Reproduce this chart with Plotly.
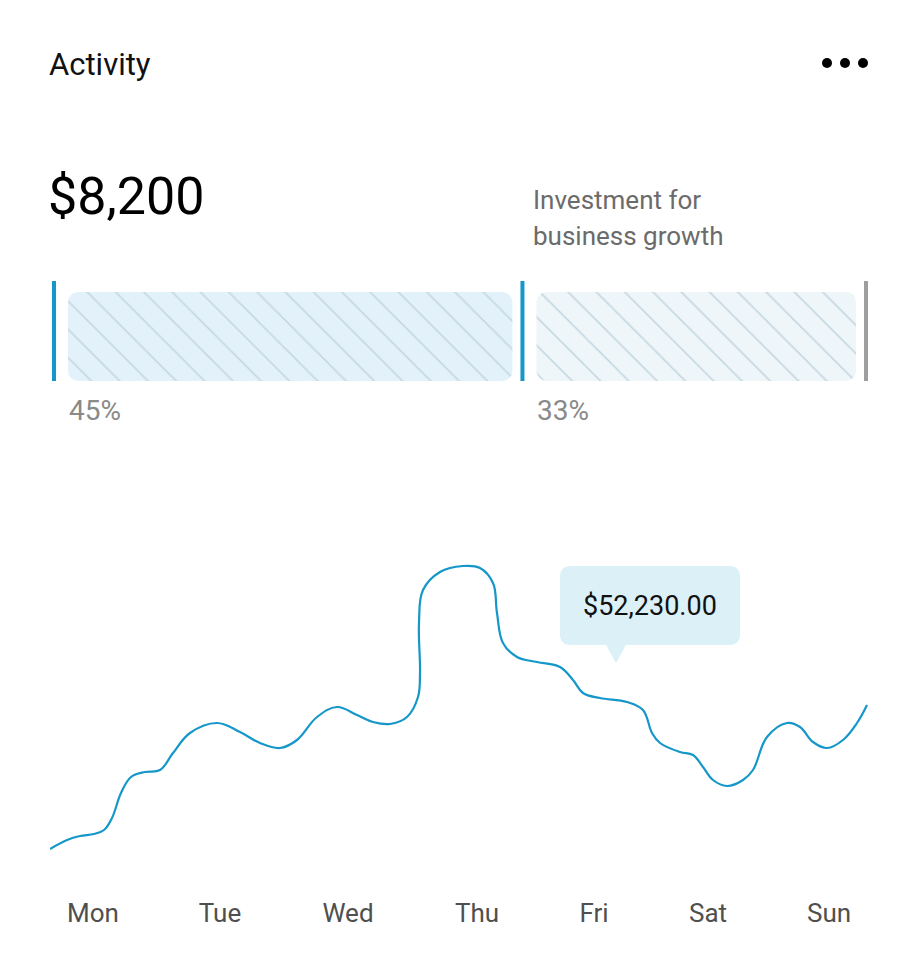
import plotly.graph_objects as go

# ---------------- data ----------------
title_text = "Activity"
headline_value = "$8,200"
subtitle_lines = ["Investment for", "business growth"]

share_labels = ["Invested", "Remaining"]
share_values = [45, 33]

days = ["Mon", "Tue", "Wed", "Thu", "Fri", "Sat", "Sun"]
day_ticks = [93, 220, 348, 477, 594, 708, 829]

# activity curve (x: timeline position, y: activity level)
curve_t = [50, 67, 80, 94, 104, 112, 121, 131, 145, 160, 173, 190, 217, 240, 260, 280, 297, 317,
           337, 357, 373, 390, 407, 418, 420, 419, 423, 440, 463, 480, 493, 497, 503,
           517, 537, 560, 573, 583, 600, 627, 643, 652, 660, 680, 693, 703, 713, 727,
           743, 753, 767, 787, 800, 813, 827, 843, 857, 867]
curve_v = [51, 60, 64, 66, 70, 82, 107, 123, 128, 130, 147, 167, 177, 168, 157, 152, 160, 183,
           193, 185, 178, 176, 183, 203, 227, 277, 310, 328, 334, 332, 317, 287, 257,
           243, 238, 233, 220, 207, 202, 198, 190, 167, 157, 148, 145, 133, 120, 114,
           120, 130, 163, 177, 173, 158, 152, 160, 177, 195]

tooltip_text = "$52,230.00"
tooltip_anchor = (616, 237)   # (timeline position, activity level) of the pointer tip

# ---------------- layout helpers ----------------
OFF = 8                     # page body margin around the figure
W, H = 918 - OFF, 974 - OFF
def fx(px):
    return (px - OFF) / W
def fy(py):
    return 1 - (py - OFF) / H

FONT = "Roboto"
BLUE = "#1597c9"

fig = go.Figure()

# ---------------- activity line ----------------
fig.add_trace(go.Scatter(
    x=curve_t, y=curve_v, mode="lines",
    line=dict(color=BLUE, width=2.2, shape="spline", smoothing=1.1),
    hoverinfo="skip", xaxis="x", yaxis="y", showlegend=False,
))

# ---------------- share bars ----------------
total = sum(share_values)
bar_left_px, bar_right_px = 54, 866
unit_px = (bar_right_px - bar_left_px) / total
pad_l, pad_r = 14 / unit_px, 10 / unit_px
edge = 6 / unit_px          # extra room so edge markers are not clipped
cum = [sum(share_values[:i]) for i in range(len(share_values))]
bases = [c + pad_l for c in cum]
lengths = [v - pad_l - pad_r for v in share_values]
bg_cols = ["#e3f2fa", "#eff6f9"]

for i in range(len(share_values)):
    fig.add_trace(go.Bar(
        x=[lengths[i]], base=[bases[i]], y=[0.445], width=0.89, orientation="h",
        marker=dict(color=bg_cols[i], cornerradius=10, line=dict(width=0),
                    pattern=dict(shape="\\", fgcolor="#c5d8e2", bgcolor=bg_cols[i],
                                 size=20, solidity=0.08, fillmode="replace")),
        xaxis="x2", yaxis="y2", hoverinfo="skip", showlegend=False, name=share_labels[i],
    ))

shapes = []
marker_pos = cum + [total]
marker_cols = [BLUE, BLUE, "#9e9e9e"]
for p, c in zip(marker_pos, marker_cols):
    shapes.append(dict(type="line", xref="x2", yref="y2", x0=p, x1=p, y0=0, y1=1,
                       line=dict(color=c, width=4)))

annotations = []
for c, v in zip(cum, share_values):
    annotations.append(dict(x=c + pad_l - 0.1, y=fy(411), xref="x2", yref="paper",
                            text=f"{v}%", showarrow=False, xanchor="left", yanchor="middle",
                            font=dict(family=FONT, size=28, color="#8a8a8a")))

# ---------------- header ----------------
annotations.append(dict(x=fx(47), y=fy(64), xref="paper", yref="paper", text=title_text,
                        showarrow=False, xanchor="left", yanchor="middle",
                        font=dict(family=FONT, size=31, color="#111111")))
annotations.append(dict(x=fx(46), y=fy(197), xref="paper", yref="paper", text=headline_value,
                        showarrow=False, xanchor="left", yanchor="middle",
                        font=dict(family=FONT, size=52, color="#000000")))
for i, line in enumerate(subtitle_lines):
    annotations.append(dict(x=fx(531), y=fy(200 + 36 * i), xref="paper", yref="paper", text=line,
                            showarrow=False, xanchor="left", yanchor="middle",
                            font=dict(family=FONT, size=26, color="#6b6b6b")))

for cx in (827, 845, 863):
    shapes.append(dict(type="circle", xref="paper", yref="paper",
                       x0=fx(cx - 5), x1=fx(cx + 5), y0=fy(68), y1=fy(58),
                       fillcolor="#000000", line=dict(width=0)))

# ---------------- tooltip ----------------
tx, tv = tooltip_anchor
bw, bh, r, ptr_h, ptr_w, off = 180, 79, 11, 18, 10, -56
x0, x1 = tx + off, tx + off + bw
yb, yt = tv + ptr_h, tv + ptr_h + bh
path = (f"M {x0+r},{yt} L {x1-r},{yt} Q {x1},{yt} {x1},{yt-r} "
        f"L {x1},{yb+r} Q {x1},{yb} {x1-r},{yb} "
        f"L {tx+ptr_w},{yb} L {tx},{tv} L {tx-ptr_w},{yb} "
        f"L {x0+r},{yb} Q {x0},{yb} {x0},{yb+r} L {x0},{yt-r} Q {x0},{yt} {x0+r},{yt} Z")
shapes.append(dict(type="path", xref="x", yref="y", path=path,
                   fillcolor="#dcf0f8", line=dict(width=0), layer="below"))
annotations.append(dict(x=(x0 + x1) / 2, y=(yb + yt) / 2, xref="x", yref="y", text=tooltip_text,
                        showarrow=False, xanchor="center", yanchor="middle",
                        font=dict(family=FONT, size=27, color="#111111")))

fig.update_layout(
    width=W, height=H, margin=dict(l=0, r=0, t=0, b=0),
    paper_bgcolor="white", plot_bgcolor="rgba(0,0,0,0)",
    barmode="overlay", showlegend=False,
    xaxis=dict(domain=[fx(50), fx(868)], range=[50, 868], tickmode="array",
               tickvals=day_ticks, ticktext=days, showgrid=False, zeroline=False,
               showline=False, ticks="", ticklabelstandoff=15,
               tickfont=dict(family=FONT, size=26, color="#4f4f4f"),
               fixedrange=True),
    yaxis=dict(domain=[fy(880), fy(550)], range=[20, 350], visible=False, fixedrange=True),
    xaxis2=dict(domain=[fx(bar_left_px - 6), fx(bar_right_px + 6)], range=[-edge, total + edge],
                visible=False, anchor="y2", fixedrange=True),
    yaxis2=dict(domain=[fy(381), fy(281)], range=[0, 1], visible=False, anchor="x2",
                fixedrange=True),
    shapes=shapes, annotations=annotations,
)

fig.write_html("out.html", config={"displayModeBar": False})
